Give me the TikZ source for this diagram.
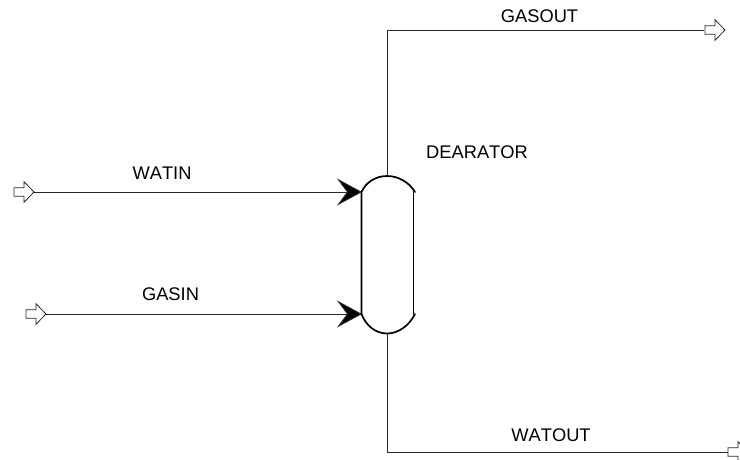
\documentclass[tikz,border=0pt]{standalone}
\usepackage{fontspec}
\setmainfont[Kerning=Off]{Liberation Sans}
\usetikzlibrary{arrows.meta}
\definecolor{linegray}{RGB}{40,40,40}
\tikzset{
  stream/.style={draw=linegray, line width=0.9pt},
  feed/.style={stream, -{Stealth[length=25pt, width=27pt, inset=10pt, fill=black]}},
  port/.style={draw=linegray, line width=0.8pt, fill=white},
  vessel/.style={draw=black, line width=1.7pt, line cap=round},
  tag/.style={anchor=center, inner sep=0pt, font=\fontsize{18.3}{20}\selectfont, text=black}
}
% hollow block arrow: #1 = tip x, #2 = y
\newcommand{\portarrow}[2]{
  \draw[port] (#1-20,#2-4.3) -- (#1-10,#2-4.3) -- (#1-10,#2-10.3) -- (#1,#2) -- (#1-10,#2+10.3) -- (#1-10,#2+4.3) -- (#1-20,#2+4.3) -- cycle;
}

\begin{document}
\begin{tikzpicture}[x=1pt, y=-1pt]
\useasboundingbox (0,0) rectangle (740,459);
\clip (0,0) rectangle (740,459);

% Connection points
\coordinate (watinport) at (34,192);
\coordinate (gasinport) at (46,314);
\coordinate (gasoutport) at (704,30);
\coordinate (watoutport) at (728,452);
\coordinate (drumnw) at (362,192);
\coordinate (drumsw) at (362,314);
\coordinate (drumtop) at (387,176);
\coordinate (drumbot) at (387,333.5);

% Streams
\draw[feed] (watinport) -- (drumnw);
\draw[feed] (gasinport) -- (drumsw);
\draw[stream] (drumtop) |- (gasoutport);
\draw[stream] (drumbot) |- (watoutport);

% Vessel
\draw[vessel] (415,192) .. controls (409,182) and (398,176) .. (387,176) .. controls (376,176) and (366,182) .. (361.5,192) -- (361.5,314) .. controls (366,326) and (376,333.5) .. (387,333.5) .. controls (398,333.5) and (409,326) .. (415,314);
\draw[vessel] (413.5,192) -- (413.5,314);

% Ports
\portarrow{34}{192}
\portarrow{46}{314}
\portarrow{725}{30}
\portarrow{748}{452}

% Labels
\node[tag] (gasoutlabel) at (539.5,16) {GASOUT};
\node[tag] (dearatorlabel) at (477,152) {DEARATOR};
\node[tag] (watinlabel) at (162,173) {WATIN};
\node[tag] (gasinlabel) at (170.5,294.5) {GASIN};
\node[tag] (watoutlabel) at (551,435) {WATOUT};
\end{tikzpicture}
\end{document}
